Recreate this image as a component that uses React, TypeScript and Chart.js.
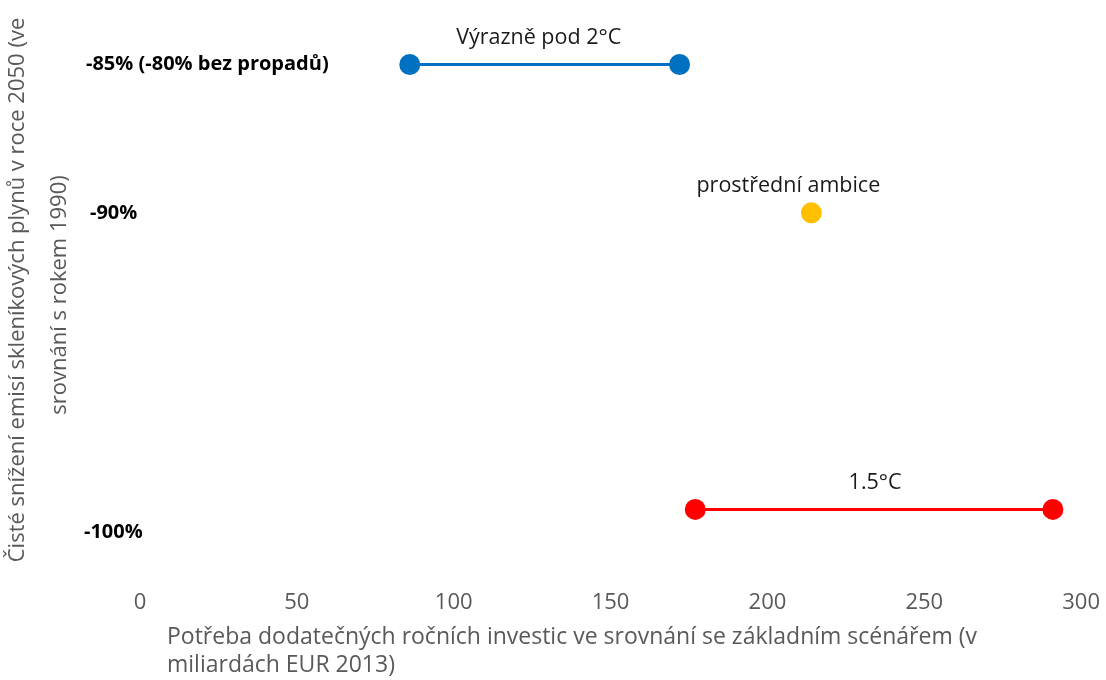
import React, { useEffect, useRef } from "react";
import { Chart, registerables } from "chart.js";

Chart.register(...registerables);

const FONT = "'Open Sans', 'Noto Sans', sans-serif";

const xTicks = [0, 50, 100, 150, 200, 250, 300];
const blueX = [86, 172];
const blueY = [-85, -85];
const yellowX = [214];
const yellowY = [-90];
const redX = [177, 291];
const redY = [-100, -100];
const seriesNames = ["Výrazně pod 2°C", "prostřední ambice", "1.5°C"];
const seriesColors = ["#0070C0", "#FFC000", "#FF0000"];
const yLabelValues = [-85, -90, -100];
const yLabelTexts = ["-85% (-80% bez propadů)", "-90%", "-100%"];
const xTitleLines = [
  "Potřeba dodatečných ročních investic ve srovnání se základním scénářem (v",
  "miliardách EUR 2013)",
];
const yTitleLines = [
  "Čisté snížení emisí skleníkových plynů v roce 2050 (ve",
  "srovnání s rokem 1990)",
];

const toPts = (xs: number[], ys: number[]) => xs.map((x, i) => ({ x, y: ys[i] }));

const textPlugin = {
  id: "textPlugin",
  afterDraw(chart: any) {
    const ctx = chart.ctx as CanvasRenderingContext2D;
    const ys = chart.scales.y;
    const area = chart.chartArea;
    ctx.save();

    // series labels
    const dxs = [-6, -23, 1];
    ctx.font = `21.5px ${FONT}`;
    ctx.fillStyle = "#1a1a1a";
    ctx.textAlign = "center";
    ctx.textBaseline = "middle";
    chart.data.datasets.forEach((ds: any, i: number) => {
      const meta = chart.getDatasetMeta(i);
      const pts = meta.data;
      const cx = pts.reduce((s: number, p: any) => s + p.x, 0) / pts.length;
      const cy = pts[0].y;
      ctx.fillText(seriesNames[i], cx + dxs[i], cy - 27);
    });

    // y value labels
    const dys = [0, 0, 23];
    const dxl = [-54, -50, -56];
    ctx.font = `bold 20px ${FONT}`;
    ctx.fillStyle = "#000000";
    ctx.textAlign = "left";
    yLabelValues.forEach((v, i) => {
      ctx.fillText(yLabelTexts[i], area.left + dxl[i], ys.getPixelForValue(v) + dys[i]);
    });

    // x title
    ctx.font = `23px ${FONT}`;
    ctx.fillStyle = "#595959";
    ctx.textAlign = "left";
    ctx.fillText(xTitleLines[0], 167, 637);
    ctx.fillText(xTitleLines[1], 167, 665);

    // y title
    ctx.font = `22px ${FONT}`;
    ctx.textAlign = "center";
    ctx.save();
    ctx.translate(18, 290);
    ctx.rotate(-Math.PI / 2);
    ctx.fillText(yTitleLines[0], 0, 0);
    ctx.restore();
    ctx.save();
    ctx.translate(60, 295);
    ctx.rotate(-Math.PI / 2);
    ctx.fillText(yTitleLines[1], 0, 0);
    ctx.restore();

    ctx.restore();
  },
};

export default function App() {
  const ref = useRef<HTMLCanvasElement | null>(null);
  useEffect(() => {
    if (!ref.current) return;
    const mk = (i: number, data: { x: number; y: number }[]) => ({
      label: seriesNames[i],
      data,
      borderColor: seriesColors[i],
      backgroundColor: seriesColors[i],
      pointBackgroundColor: seriesColors[i],
      pointBorderColor: seriesColors[i],
      borderWidth: 3,
      pointRadius: 9,
      pointHoverRadius: 9,
      showLine: true,
      fill: false,
    });
    const chart = new Chart(ref.current, {
      type: "scatter",
      data: {
        datasets: [
          mk(0, toPts(blueX, blueY)),
          mk(1, toPts(yellowX, yellowY)),
          mk(2, toPts(redX, redY)),
        ],
      },
      options: {
        responsive: false,
        animation: false,
        layout: { padding: { left: 140, right: 24, top: 20, bottom: 58 } },
        plugins: { legend: { display: false }, tooltip: { enabled: false } },
        scales: {
          x: {
            type: "linear",
            min: 0,
            max: 300,
            afterBuildTicks: (s: any) => {
              s.ticks = xTicks.map((v) => ({ value: v }));
            },
            grid: { display: false, drawTicks: false },
            border: { display: false },
            ticks: {
              padding: 6,
              color: "#595959",
              font: { family: FONT, size: 22 },
            },
          },
          y: {
            type: "linear",
            min: -102.5,
            max: -83.5,
            display: false,
          },
        },
      },
      plugins: [textPlugin],
    });
    return () => chart.destroy();
  }, []);
  return (
    <canvas
      ref={ref}
      width={1106}
      height={680}
      style={{ position: "absolute", left: 0, top: 0, display: "block" }}
    />
  );
}
